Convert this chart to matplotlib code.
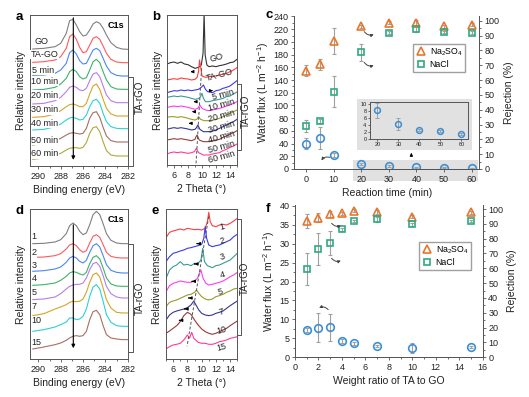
import matplotlib
matplotlib.use("Agg")
import matplotlib.pyplot as plt
from matplotlib.patches import Rectangle
from matplotlib.lines import Line2D
from matplotlib.ticker import MultipleLocator

plt.rcParams["font.family"] = ["Liberation Sans", "DejaVu Sans"]
plt.rcParams["mathtext.fontset"] = "custom"
plt.rcParams["mathtext.rm"] = "Liberation Sans"
plt.rcParams["mathtext.it"] = "Liberation Sans:italic"
plt.rcParams["mathtext.bf"] = "Liberation Sans:bold"

# ---- XPS C1s spectra (panels a, d), stacked intensity in a.u. as drawn
XPS_E = [290.5, 289.5, 288.5, 288.0, 287.5, 287.2, 286.9, 286.6, 286.3, 286.0, 285.7,
         285.4, 285.1, 284.8, 284.5, 284.2, 283.9, 283.5, 283.0, 282.5, 282.0]
A_LABELS = ["GO", "TA-GO", "5 min", "10 min", "20 min", "30 min", "40 min", "50 min", "60 min"]
A_CURVES = [
    [351, 353, 358, 368, 398, 436, 440, 423, 403, 390, 393, 408, 426, 433, 428, 413, 393, 370, 356, 351, 350],
    [311, 313, 318, 328, 353, 388, 396, 380, 356, 340, 343, 363, 383, 388, 380, 360, 338, 320, 312, 310, 310],
    [272, 273, 278, 288, 308, 340, 348, 336, 316, 306, 308, 328, 348, 353, 346, 323, 300, 280, 272, 270, 270],
    [228, 230, 236, 246, 263, 283, 290, 283, 268, 261, 265, 288, 313, 320, 310, 283, 258, 238, 231, 230, 230],
    [186, 188, 196, 206, 223, 236, 240, 236, 228, 226, 233, 256, 276, 280, 268, 240, 213, 196, 190, 190, 190],
    [146, 148, 156, 166, 178, 184, 186, 183, 178, 178, 188, 216, 240, 246, 230, 200, 173, 156, 150, 150, 150],
    [108, 110, 118, 126, 138, 144, 146, 143, 138, 140, 153, 178, 196, 200, 188, 158, 133, 118, 113, 112, 112],
    [63, 68, 76, 83, 93, 98, 100, 98, 96, 98, 113, 143, 160, 163, 146, 116, 90, 76, 72, 72, 72],
    [20, 24, 32, 38, 48, 53, 55, 55, 53, 56, 70, 98, 115, 118, 103, 73, 46, 33, 30, 30, 30],
]
D_LABELS = ["1", "2", "3", "4", "5", "7", "10", "15"]
D_CURVES = [
    [347, 348, 352, 359, 377, 401, 409, 401, 384, 374, 379, 404, 434, 444, 434, 407, 377, 357, 349, 347, 347],
    [306, 307, 311, 317, 331, 343, 347, 341, 329, 321, 326, 349, 369, 374, 366, 344, 321, 309, 305, 304, 304],
    [264, 266, 271, 277, 291, 304, 309, 304, 294, 289, 297, 321, 341, 347, 337, 311, 284, 267, 261, 259, 259],
    [222, 224, 229, 237, 249, 259, 263, 261, 256, 253, 261, 287, 306, 311, 301, 274, 244, 226, 220, 219, 219],
    [179, 181, 187, 197, 211, 219, 223, 225, 225, 229, 244, 269, 287, 291, 279, 251, 219, 197, 187, 184, 184],
    [131, 137, 151, 157, 164, 171, 174, 173, 174, 181, 201, 231, 254, 259, 247, 214, 179, 154, 141, 139, 139],
    [84, 89, 97, 104, 112, 124, 124, 119, 121, 129, 151, 189, 217, 224, 211, 174, 134, 111, 101, 99, 99],
    [31, 37, 44, 49, 57, 64, 69, 71, 69, 71, 84, 119, 143, 147, 134, 101, 74, 64, 61, 59, 59],
]

# ---- XRD patterns (panels b, e)
B_LABELS = ["GO", "TA-GO", "5 min", "10 min", "20 min", "30 min", "40 min", "50 min", "60 min"]
B_X = [
    [5, 5.5, 6, 6.5, 7, 7.5, 8, 8.5, 9, 9.5, 9.9, 10.15, 10.3, 10.45, 10.7, 11, 11.5, 12, 12.5, 13, 13.5, 14, 14.5, 15],
    [5, 5.5, 6, 6.5, 7, 7.5, 8, 8.5, 9, 9.3, 9.5, 9.65, 9.8, 10, 10.5, 11, 11.5, 12, 12.5, 13, 13.5, 14, 14.5, 15],
    [5, 5.5, 6, 6.5, 7, 7.5, 8, 8.5, 9, 9.5, 9.9, 10.2, 10.5, 10.8, 11.5, 12, 12.5, 13, 13.5, 14, 14.5, 15],
    [5, 5.5, 6, 6.5, 7, 7.5, 8, 8.5, 9, 9.5, 9.8, 10.0, 10.2, 10.5, 11, 11.5, 12, 12.5, 13, 13.5, 14, 14.5, 15],
    [5, 5.5, 6, 6.5, 7, 7.5, 8, 8.5, 9, 9.4, 9.7, 10, 10.5, 11, 11.5, 12, 12.5, 13, 13.5, 14, 14.5, 15],
    [5, 5.5, 6, 6.5, 7, 7.5, 8, 8.5, 9, 9.25, 9.5, 9.8, 10.3, 11, 11.5, 12, 12.5, 13, 13.5, 14, 14.5, 15],
    [5, 5.5, 6, 6.5, 7, 7.5, 8, 8.5, 9, 9.2, 9.4, 9.7, 10.2, 11, 11.5, 12, 12.5, 13, 13.5, 14, 14.5, 15],
    [5, 5.5, 6, 6.5, 7, 7.5, 8, 8.5, 9, 9.1, 9.3, 9.6, 10.2, 11, 11.5, 12, 12.5, 13, 13.5, 14, 14.5, 15],
    [5, 5.5, 6, 6.5, 7, 7.5, 8, 8.5, 8.9, 9.2, 9.5, 10.2, 11, 11.5, 12, 12.5, 13, 13.5, 14, 14.5, 15],
]
B_Y = [
    [303, 307, 309, 305, 309, 303, 301, 295, 290, 293, 300, 335, 455, 330, 300, 295, 297, 295, 298, 300, 303, 307, 309, 317],
    [255, 257, 259, 257, 261, 259, 258, 255, 257, 263, 280, 315, 295, 267, 263, 265, 267, 267, 270, 273, 275, 280, 285, 292],
    [217, 220, 223, 222, 225, 223, 225, 223, 225, 227, 233, 240, 227, 220, 217, 223, 225, 230, 233, 237, 245, 253],
    [203, 205, 207, 205, 207, 205, 203, 200, 197, 199, 205, 215, 200, 190, 190, 193, 195, 197, 200, 205, 207, 213, 219],
    [173, 175, 177, 175, 177, 175, 173, 170, 167, 170, 180, 170, 165, 163, 165, 167, 170, 173, 177, 180, 185, 190],
    [143, 145, 145, 143, 145, 143, 140, 137, 135, 137, 145, 137, 133, 133, 135, 137, 140, 145, 150, 155, 160, 165],
    [107, 110, 112, 110, 112, 110, 108, 105, 107, 112, 120, 107, 100, 100, 102, 105, 110, 115, 120, 125, 130, 137],
    [75, 77, 79, 77, 79, 77, 75, 73, 77, 83, 90, 75, 70, 70, 72, 75, 77, 83, 87, 93, 97, 103],
    [33, 37, 39, 37, 39, 37, 35, 37, 40, 50, 37, 30, 30, 33, 35, 37, 43, 47, 53, 57, 63],
]
E_LABELS = ["1", "2", "3", "4", "5", "7", "10", "15"]
E_X = [
    [5, 5.5, 6, 6.5, 7, 7.5, 8, 8.5, 9, 9.5, 10, 10.5, 10.8, 11.0, 11.2, 11.5, 12, 12.5, 13, 13.5, 14, 14.5, 15],
    [5, 5.5, 6, 6.5, 7, 7.5, 8, 8.5, 9, 9.5, 10, 10.3, 10.5, 10.7, 11, 11.5, 12, 12.5, 13, 13.5, 14, 14.5, 15],
    [5, 5.5, 6, 6.5, 7, 7.5, 8, 8.5, 9, 9.5, 9.9, 10.15, 10.4, 10.8, 11.5, 12, 12.5, 13, 13.5, 14, 14.5, 15],
    [5, 5.5, 6, 6.5, 7, 7.5, 8, 8.5, 9, 9.4, 9.7, 9.9, 10.2, 10.6, 11, 11.5, 12, 12.5, 13, 13.5, 14, 14.5, 15],
    [5, 5.5, 6, 6.5, 7, 7.5, 8, 8.5, 9, 9.3, 9.6, 10, 10.5, 11, 11.5, 12, 12.5, 13, 13.5, 14, 14.5, 15],
    [5, 5.5, 6, 6.5, 7, 7.5, 8, 8.5, 8.9, 9.2, 9.6, 10, 10.5, 11, 11.5, 12, 12.5, 13, 13.5, 14, 14.5, 15],
    [5, 5.5, 6, 6.5, 7, 7.5, 8, 8.5, 9, 9.5, 10, 10.5, 11, 11.5, 12, 12.5, 13, 13.5, 14, 14.5, 15],
    [5, 5.5, 6, 6.5, 7, 7.5, 8, 8.3, 8.6, 8.9, 9.5, 10, 10.5, 11, 11.5, 12, 12.5, 13, 13.5, 14, 14.5, 15],
]
E_Y = [
    [365, 381, 385, 388, 391, 388, 393, 391, 389, 390, 388, 393, 413, 441, 413, 401, 398, 403, 405, 403, 408, 415, 423],
    [293, 308, 318, 321, 325, 328, 333, 335, 338, 341, 345, 363, 398, 363, 343, 338, 341, 343, 348, 353, 358, 368, 375],
    [243, 268, 278, 283, 293, 283, 285, 281, 288, 288, 298, 333, 293, 281, 275, 281, 283, 288, 293, 298, 308, 318],
    [203, 221, 228, 231, 235, 233, 231, 231, 235, 243, 258, 268, 243, 228, 223, 225, 228, 231, 235, 241, 248, 253, 261],
    [158, 171, 175, 178, 183, 188, 193, 195, 201, 208, 198, 188, 181, 178, 181, 188, 191, 195, 201, 205, 211, 213],
    [118, 133, 141, 145, 148, 151, 155, 163, 175, 163, 148, 138, 133, 131, 133, 138, 141, 145, 153, 161, 168, 175],
    [78, 85, 93, 101, 113, 131, 141, 135, 118, 103, 91, 83, 78, 75, 78, 83, 88, 93, 101, 108, 115],
    [31, 38, 43, 45, 48, 58, 73, 63, 81, 63, 51, 48, 48, 45, 45, 48, 53, 55, 58, 63, 65, 68],
]

# ---- membrane performance vs reaction time (panel c)
TIME = [0, 5, 10, 20, 30, 40, 50, 60]
FLUX_C = [40, 49, 22, 8.1, 4.3, 2.55, 2.3, 1.4]
FLUX_C_ERR = [9, 17, 3, 2.1, 1.65, 0.3, 0.3, 0.3]
NA2SO4_C = [66.3, 70.8, 86.5, 96.4, 98.8, 98.8, 96.4, 97.3]
NA2SO4_C_ERR = [3.8, 3.7, 8.8, 1.0, 1.0, 1.5, 1.0, 1.0]
NACL_C = [29.2, 32.4, 52.1, 78.7, 91.9, 94.2, 92.4, 91.9]
NACL_C_ERR = [4.0, 1.2, 10.6, 5.8, 1.0, 1.5, 1.0, 1.0]

# ---- membrane performance vs TA:GO weight ratio (panel f)
RATIO = [1, 2, 3, 4, 5, 7, 10, 15]
FLUX_F = [7.2, 7.8, 7.9, 4.4, 3.7, 3.0, 2.5, 2.7]
FLUX_F_ERR = [0.5, 3.8, 3.5, 0.5, 0.4, 0.3, 1.3, 0.3]
NA2SO4_F = [91.9, 94.1, 96.4, 97.1, 98.7, 97.8, 94.8, 97.8]
NA2SO4_F_ERR = [4.5, 3.0, 2.0, 1.0, 1.0, 1.5, 1.0, 1.0]
NACL_F = [59.5, 73.0, 76.9, 86.5, 91.9, 93.0, 89.7, 91.9]
NACL_F_ERR = [10.7, 10.9, 8.0, 1.0, 1.0, 1.5, 1.0, 1.0]

# colours
XPS_COLORS = ["#808080", "#ff5a5a", "#4d86f0", "#3fb36a", "#b67ee8", "#d3a52a", "#2ed0d6", "#a86e62", "#b0a83a"]
XRD_COLORS = ["#333333", "#ff3c3c", "#3a3af0", "#3a9a96", "#ff3cf0", "#9a9a2e", "#363696", "#9a3a3a", "#ff3c9a"]
C_NA2SO4, C_NACL, C_FLUX, C_ERR = "#e8772e", "#2faa82", "#3d8fd4", "#a0a0a0"
INK = "#222222"

W, H = 529, 397
fig = plt.figure(figsize=(W / 100, H / 100), dpi=100)


def rect(l, t, r, b):
    return [l / W, 1 - b / H, (r - l) / W, (b - t) / H]


def fp(x, y):
    return x / W, 1 - y / H


def frame(ax):
    for sp in ax.spines.values():
        sp.set_color("#555555"); sp.set_linewidth(0.7)
    ax.tick_params(which="both", direction="out", colors="#555555", labelcolor=INK,
                   labelsize=6.5, width=0.6, pad=1.5)
    ax.tick_params(which="major", length=2.5)
    ax.tick_params(which="minor", length=1.5)


def bracket(x0, x1, y0, y1, tx, ty):
    fig.add_artist(Line2D([fp(x0, 0)[0], fp(x1, 0)[0], fp(x1, 0)[0], fp(x0, 0)[0]],
                          [fp(0, y0)[1], fp(0, y0)[1], fp(0, y1)[1], fp(0, y1)[1]],
                          transform=fig.transFigure, color="#555555", lw=0.7))
    fig.text(*fp(tx, ty), "TA-rGO", rotation=90, ha="center", va="center", fontsize=7, color=INK)


def xps_panel(ax, curves, labels, colors, label_pos, top, tip):
    for y, c in zip(curves, colors):
        ax.plot(XPS_E, y, color=c, lw=0.8)
    for (lx, ly), t in zip(label_pos, labels):
        ax.text(lx, ly, t, fontsize=6.5, color=INK, ha="left", va="center",
                bbox=dict(fc="white", ec="none", pad=0.2))
    ax.annotate("", xy=(286.87, tip), xytext=(286.87, top),
                arrowprops=dict(arrowstyle="-|>", color="k", lw=0.8, mutation_scale=5))
    ax.text(0.96, 0.96, "C1s", transform=ax.transAxes, ha="right", va="top",
            fontsize=6.5, fontweight="bold")
    ax.set_xlim(290.75, 281.97)
    ax.set_xticks([290, 288, 286, 284, 282])
    ax.xaxis.set_minor_locator(MultipleLocator(1))
    ax.set_yticks([])
    ax.set_xlabel("Binding energy (eV)", fontsize=7.5, color=INK, labelpad=3)
    ax.set_ylabel("Relative intensity", fontsize=7.5, color=INK, labelpad=3)
    frame(ax)


def xrd_panel(ax, xs, ys, labels, colors, label_pos, arrows, dash):
    for x, y, c in zip(xs, ys, colors):
        ax.plot(x, y, color=c, lw=0.8)
    for (lx, ly), t in zip(label_pos, labels):
        ax.text(lx, ly, t, fontsize=6.5, color=INK, ha="left", va="center", rotation=15)
    for hx, tx, ay in arrows:
        ax.annotate("", xy=(hx, ay), xytext=(tx, ay),
                    arrowprops=dict(arrowstyle="-|>", color="k", lw=0.8, mutation_scale=4))
    ax.plot(dash[0], dash[1], color="#555555", lw=0.7, ls=(0, (3, 2)))
    ax.set_xlim(5, 15)
    ax.set_xticks([6, 8, 10, 12, 14])
    ax.xaxis.set_minor_locator(MultipleLocator(1))
    ax.set_yticks([])
    ax.set_xlabel("2 Theta (°)", fontsize=7.5, color=INK, labelpad=3)
    ax.set_ylabel("Relative intensity", fontsize=7.5, color=INK, labelpad=3)
    frame(ax)


def perf_panel(ax, x, flux, flux_err, na2so4, na2so4_err, nacl, nacl_err, ylim_l, ylim_r):
    ax.set_facecolor("none")
    ax2 = ax.twinx()
    ax.errorbar(x, flux, yerr=flux_err, fmt="none", ecolor=C_ERR, elinewidth=0.8, capsize=1.5, capthick=0.8)
    ax.plot(x, flux, ls="none", marker="o", ms=5.5, mfc="none", mec=C_FLUX, mew=1.2)
    ax2.errorbar(x, na2so4, yerr=na2so4_err, fmt="none", ecolor=C_ERR, elinewidth=0.8, capsize=1.5, capthick=0.8)
    ax2.errorbar(x, nacl, yerr=nacl_err, fmt="none", ecolor=C_ERR, elinewidth=0.8, capsize=1.5, capthick=0.8)
    ax2.plot(x, na2so4, ls="none", marker="^", ms=6, mfc="none", mec=C_NA2SO4, mew=1.2, label="Na$_2$SO$_4$")
    ax2.plot(x, nacl, ls="none", marker="s", ms=5, mfc="none", mec=C_NACL, mew=1.2, label="NaCl")
    ax.set_ylim(*ylim_l); ax2.set_ylim(*ylim_r)
    ax2.set_yticks(range(0, 101, 10))
    ax2.yaxis.set_minor_locator(MultipleLocator(5))
    for a in (ax, ax2):
        frame(a)
        a.spines["top"].set_visible(False)
    ax.set_ylabel("Water flux (L m$^{-2}$ h$^{-1}$)", fontsize=7.5, color=INK, labelpad=2)
    ax2.set_ylabel("Rejection (%)", fontsize=7.5, color=INK, labelpad=3)
    return ax2


def curved(ax, start, end, rad):
    ax.annotate("", xy=end, xytext=start,
                arrowprops=dict(arrowstyle="-|>", color="#444444", lw=0.7, mutation_scale=4,
                                connectionstyle=f"arc3,rad={rad}"))


def legend(ax, anchor):
    ax.legend(loc="upper left", bbox_to_anchor=anchor, borderaxespad=0, fontsize=6.3,
              frameon=True, fancybox=False, edgecolor="#888888", handletextpad=0.4,
              borderpad=0.3, labelspacing=0.3, handlelength=1.2)


# ---------------- panel a
ax_a = fig.add_axes(rect(30, 15, 128, 166))
A_LABEL_POS = [(290.35, 373), (290.7, 335), (290.55, 286), (290.65, 253), (290.65, 213),
               (290.65, 168), (290.65, 128), (290.65, 76), (290.65, 36)]
xps_panel(ax_a, A_CURVES, A_LABELS, XPS_COLORS, A_LABEL_POS, top=453, tip=10)
ax_a.set_ylim(0, 453)
bracket(128, 133, 76.7, 166, 140, 97)

# ---------------- panel d
ax_d = fig.add_axes(rect(30, 209, 128, 359.3))
D_LABEL_POS = [(290.6, 367), (290.6, 319), (290.6, 281), (290.6, 241), (290.6, 199),
               (290.6, 157), (290.6, 117), (290.6, 51)]
xps_panel(ax_d, D_CURVES, D_LABELS, XPS_COLORS[:8], D_LABEL_POS, top=412, tip=25)
ax_d.set_ylim(0, 451)
bracket(128, 133, 244.3, 351.7, 140, 298)

# ---------------- panel b
ax_b = fig.add_axes(rect(167, 15, 237, 165))
B_LABEL_POS = [(10.9, 322), (10.45, 270), (11.35, 210), (10.75, 180), (10.75, 148),
               (10.75, 115), (10.75, 85), (10.75, 55), (10.75, 24)]
B_ARROWS = [(8.35, 9.05, 280), (11.55, 10.9, 223), (8.8, 9.5, 190), (8.57, 9.27, 160), (8.1, 8.8, 125)]
xrd_panel(ax_b, B_X, B_Y, B_LABELS, XRD_COLORS, B_LABEL_POS, B_ARROWS, ([9.94, 9.15], [290, 5]))
ax_b.set_ylim(0, 450)
bracket(237, 241, 84, 150, 245.5, 111)

# ---------------- panel e
ax_e = fig.add_axes(rect(166, 209, 237.3, 359.3))
E_LABEL_POS = [(12.4, 397), (12.4, 355), (12.4, 308), (12.4, 253), (12.2, 203),
               (12.2, 143), (12.0, 88), (12.0, 36)]
E_ARROWS = [(8.95, 9.75, 347), (8.62, 9.42, 286), (8.25, 9.05, 234), (7.79, 8.59, 184),
            (7.23, 8.03, 151), (6.48, 7.28, 117)]
xrd_panel(ax_e, E_X, E_Y, E_LABELS, XRD_COLORS[1:], E_LABEL_POS, E_ARROWS, ([11.0, 7.95], [429, 39]))
ax_e.set_ylim(0, 451)
bracket(237.3, 241, 219, 335, 244.5, 278)

# ---------------- panel c
fig.add_artist(Rectangle(fp(353, 181), 124.7 / W, 21 / H, transform=fig.transFigure,
                         fc="#e1e1e1", ec="none", zorder=-1))
ax_c = fig.add_axes(rect(294.3, 16, 479, 169))
ax_c2 = perf_panel(ax_c, TIME, FLUX_C, FLUX_C_ERR, NA2SO4_C, NA2SO4_C_ERR, NACL_C, NACL_C_ERR,
                   (0, 240.7), (0, 103.2))
ax_c.set_xlim(-4.2, 62.7)
ax_c.set_xticks(range(0, 61, 10))
ax_c.set_yticks(range(0, 241, 20))
ax_c.yaxis.set_minor_locator(MultipleLocator(10))
ax_c.set_xlabel("Reaction time (min)", fontsize=7.5, color=INK, labelpad=3)
legend(ax_c2, (0.643, 0.82))
curved(ax_c2, (9.6, 7.2), (5.1, 4.2), 0.5)
curved(ax_c2, (20.6, 73.5), (25.5, 70.6), 0.5)
curved(ax_c2, (20.6, 94.2), (25.5, 91.5), 0.5)
ax_c2.annotate("", xy=(38.2, 12.8), xytext=(38.2, 7.4),
               arrowprops=dict(arrowstyle="-|>", color="k", lw=0.8, mutation_scale=4))

# inset of panel c: flux for 20-60 min
fig.add_artist(Rectangle(fp(357, 150), 115 / W, 51 / H, transform=fig.transFigure,
                         fc="#e1e1e1", ec="none", zorder=0.5))
ax_in = fig.add_axes(rect(370, 101.7, 467.7, 139))
ax_in.set_zorder(2)
ax_in.set_facecolor("#e1e1e1")
ax_in.errorbar(TIME[3:], FLUX_C[3:], yerr=FLUX_C_ERR[3:], fmt="none", ecolor=C_ERR,
               elinewidth=0.7, capsize=1.2, capthick=0.7)
ax_in.plot(TIME[3:], FLUX_C[3:], ls="none", marker="o", ms=4.2, mfc="none", mec=C_FLUX, mew=1.1)
ax_in.set_xlim(16.5, 63)
ax_in.set_ylim(0, 10.6)
ax_in.set_xticks(range(20, 61, 10))
ax_in.set_yticks(range(0, 11, 2))
frame(ax_in)
ax_in.tick_params(labelsize=4, pad=1)
ax_in.tick_params(which="major", length=1.5)

# ---------------- panel f
ax_f = fig.add_axes(rect(295, 205, 482.7, 357.3))
ax_f2 = perf_panel(ax_f, RATIO, FLUX_F, FLUX_F_ERR, NA2SO4_F, NA2SO4_F_ERR, NACL_F, NACL_F_ERR,
                   (0, 40.2), (0, 102.7))
ax_f.set_xlim(0, 16)
ax_f.set_xticks(range(0, 17, 2))
ax_f.set_yticks(range(0, 41, 5))
ax_f.yaxis.set_minor_locator(MultipleLocator(2.5))
ax_f.xaxis.set_minor_locator(MultipleLocator(1))
ax_f.set_xlabel("Weight ratio of TA to GO", fontsize=7.5, color=INK, labelpad=3)
legend(ax_f2, (0.661, 0.76))
curved(ax_f2, (2.98, 30.7), (1.85, 32.4), 0.5)
curved(ax_f2, (2.98, 68.3), (4.12, 66.0), 0.5)
curved(ax_f2, (2.98, 91.9), (4.12, 89.7), 0.5)

# panel letters
for t, (x, y) in zip("abcdef", [(16, 20), (152, 20), (266, 18), (16, 214), (151, 214), (266, 212)]):
    fig.text(*fp(x, y), t, fontsize=9.5, fontweight="bold", color="k", va="baseline")

fig.savefig("out.png", dpi=100)
